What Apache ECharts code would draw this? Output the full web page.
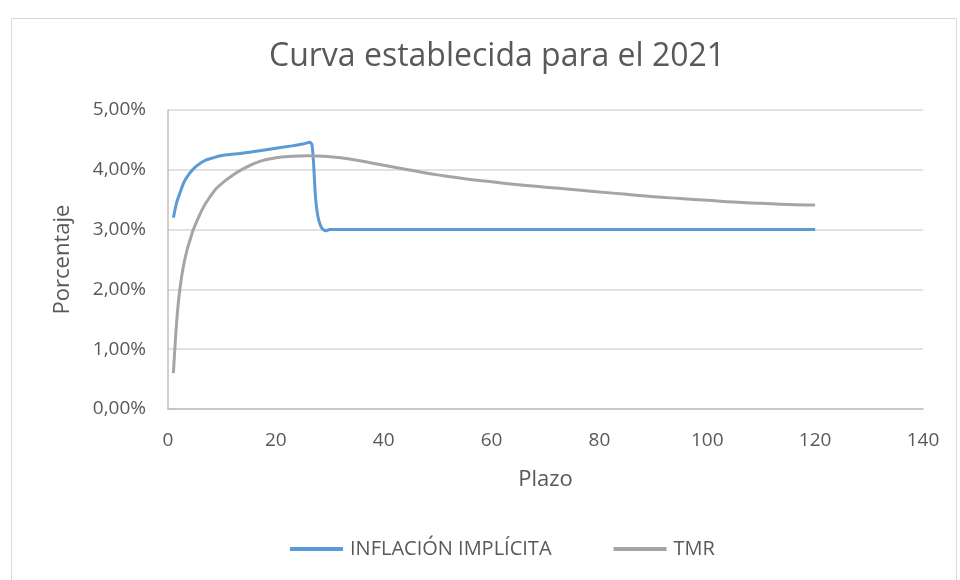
<!DOCTYPE html>
<html>
<head>
<meta charset="utf-8">
<script src="https://cdn.jsdelivr.net/npm/echarts@6/dist/echarts.min.js"></script>
<style>
  html, body { margin: 0; padding: 0; background: #fff; }
  #chart { width: 960px; height: 580px; }
</style>
</head>
<body>
<div id="chart"></div>
<script>
const TITLE = 'Curva establecida para el 2021';
const SERIES_NAMES = ['INFLACIÓN IMPLÍCITA', 'TMR'];

// [plazo, porcentaje]
const INFLACION = [
  [1, 3.2], [1.6, 3.45], [2.2, 3.61], [3, 3.8], [4, 3.94], [5, 4.04], [6, 4.11],
  [7, 4.16], [8, 4.19], [9.5, 4.23], [11, 4.25], [14, 4.28], [17, 4.32],
  [20, 4.36], [23, 4.4], [25, 4.43], [26.3, 4.46], [26.7, 4.42], [27, 4.1],
  [27.3, 3.6], [27.6, 3.33], [28, 3.14], [28.5, 3.03], [29.2, 2.98], [30, 3.0],
  [40, 3.0], [60, 3.0], [80, 3.0], [100, 3.0], [120, 3.0]
];

const TMR = [
  [1, 0.6], [1.3, 1.05], [1.6, 1.45], [2, 1.85], [2.5, 2.2], [3, 2.45],
  [3.5, 2.65], [4, 2.8], [4.7, 3.0], [5.5, 3.17], [6.6, 3.38], [7.8, 3.55],
  [9, 3.69], [10.5, 3.81], [12, 3.91], [14, 4.02], [17, 4.14], [20, 4.2],
  [23, 4.225], [26, 4.235], [29, 4.225], [32, 4.2], [35, 4.16], [38, 4.11],
  [41, 4.06], [44, 4.01], [47, 3.96], [50, 3.915], [55, 3.85], [60, 3.8],
  [65, 3.75], [70, 3.71], [75, 3.67], [80, 3.63], [85, 3.59], [90, 3.55],
  [95, 3.52], [100, 3.49], [105, 3.46], [110, 3.44], [115, 3.42], [120, 3.41]
];

const TEXT_COLOR = '#595959';
const FONT = 'Open Sans';

const chart = echarts.init(document.getElementById('chart'), null, { renderer: 'canvas' });

chart.setOption({
  animation: false,
  textStyle: { fontFamily: FONT, color: TEXT_COLOR },
  graphic: [
    {
      type: 'rect',
      shape: { x: 11.5, y: 18.5, width: 945, height: 600 },
      style: { fill: 'none', stroke: '#d9d9d9', lineWidth: 1 },
      silent: true
    }
  ],
  title: {
    text: TITLE,
    left: 264,
    top: 36,
    textStyle: { fontFamily: FONT, fontSize: 32, fontWeight: 'normal', color: TEXT_COLOR }
  },
  legend: {
    bottom: 16,
    left: 285,
    itemWidth: 53,
    itemHeight: 4,
    itemGap: 62,
    icon: 'rect',
    textStyle: { fontFamily: FONT, fontSize: 20, color: TEXT_COLOR, padding: [0, 0, 0, 2] },
    data: SERIES_NAMES
  },
  grid: { left: 168, right: 37, top: 110, bottom: 171 },
  xAxis: {
    type: 'value',
    min: 0,
    max: 140,
    interval: 20,
    name: 'Plazo',
    nameLocation: 'middle',
    nameGap: 60,
    nameTextStyle: { fontFamily: FONT, fontSize: 22, color: TEXT_COLOR },
    axisLine: { show: true, lineStyle: { color: '#bfbfbf', width: 1.5 } },
    axisTick: { show: false },
    splitLine: { show: false },
    axisLabel: { fontFamily: FONT, fontSize: 19, color: TEXT_COLOR, margin: 22 }
  },
  yAxis: {
    type: 'value',
    min: 0,
    max: 5,
    interval: 1,
    name: 'Porcentaje',
    nameLocation: 'middle',
    nameGap: 94,
    nameTextStyle: { fontFamily: FONT, fontSize: 22, color: TEXT_COLOR },
    axisLine: { show: true, lineStyle: { color: '#bfbfbf', width: 1.5 } },
    axisTick: { show: false },
    splitLine: { lineStyle: { color: '#d9d9d9', width: 1.5 } },
    axisLabel: {
      fontFamily: FONT,
      fontSize: 19,
      color: TEXT_COLOR,
      margin: 22,
      formatter: (v) => v.toFixed(2).replace('.', ',') + '%'
    }
  },
  series: [
    {
      name: SERIES_NAMES[0],
      type: 'line',
      data: INFLACION,
      smooth: 0.2,
      symbol: 'none',
      itemStyle: { color: '#5b9bd5' },
      lineStyle: { color: '#5b9bd5', width: 3 }
    },
    {
      name: SERIES_NAMES[1],
      type: 'line',
      data: TMR,
      smooth: 0.4,
      symbol: 'none',
      itemStyle: { color: '#a5a5a5' },
      lineStyle: { color: '#a5a5a5', width: 3 }
    }
  ]
});
</script>
</body>
</html>
